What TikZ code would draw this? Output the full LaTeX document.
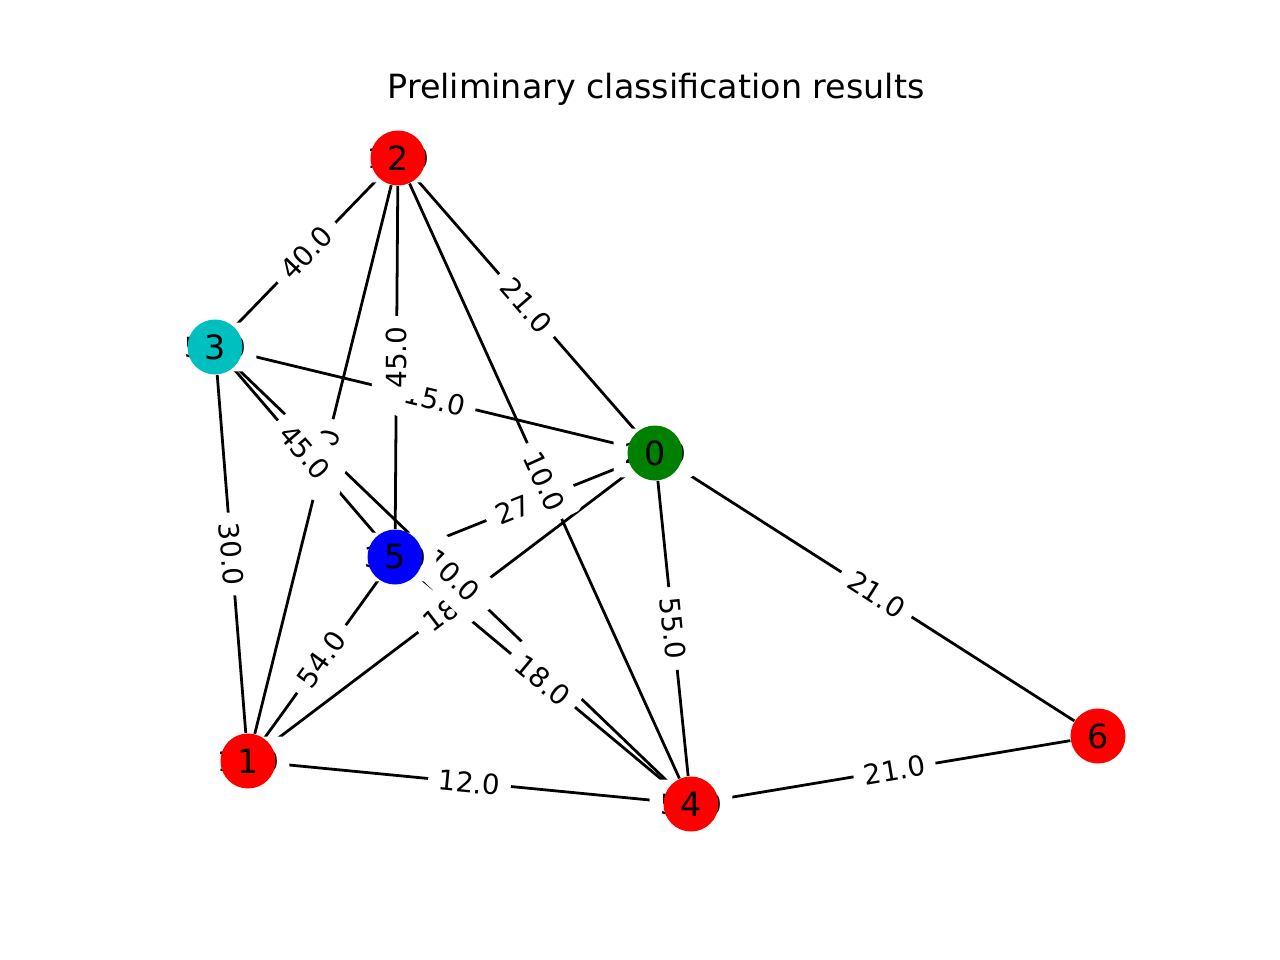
\documentclass[tikz,border=0pt]{standalone}
\usepackage{fontspec}
\setmainfont{DejaVu Sans}
\pgfdeclarelayer{bg}
\pgfsetlayers{bg,main}
\definecolor{nred}{rgb}{1,0,0}
\definecolor{ngreen}{rgb}{0,0.5,0}
\definecolor{ncyan}{rgb}{0,0.75,0.75}
\definecolor{nblue}{rgb}{0,0,1}
\tikzset{
    vertex/.style={circle, minimum size=19.8pt, inner sep=0pt, font=\fontsize{12}{12}\selectfont},
    edge/.style={line width=1pt, black},
    weight/.style={fill=white, rounded corners=3pt, inner xsep=3.8pt, inner ysep=5pt, font=\fontsize{10}{10}\selectfont},
    onedge/.style={weight, sloped, midway}
}
\begin{document}
\begin{tikzpicture}[x=0.36pt, y=-0.36pt]
    \useasboundingbox (0,0) rectangle (1280,960);
    \node [anchor=base, font=\fontsize{12}{14}\selectfont] (title) at (656,98) {Preliminary classification results};
    \node [vertex, fill=ngreen] (n0) at (655,453) {0};
    \node [vertex, fill=nred] (n1) at (248,761) {1};
    \node [vertex, fill=nred] (n2) at (398,158) {2};
    \node [vertex, fill=ncyan] (n3) at (215,347) {3};
    \node [vertex, fill=nred] (n4) at (691,804) {4};
    \node [vertex, fill=nblue] (n5) at (395,557) {5};
    \node [vertex, fill=nred] (n6) at (1098,736) {6};
    \begin{pgfonlayer}{bg}
        \draw [edge] (n2) -- (n3);
        \draw [edge] (n2) -- (n0);
        \draw [edge] (n2) -- (n5);
        \draw [edge] (n2) -- (n1);
        \draw [edge] (n2) -- (n4);
        \draw [edge] (n3) -- (n0);
        \draw [edge] (n3) -- (n5);
        \draw [edge] (n3) -- (n4);
        \draw [edge] (n3) -- (n1);
        \draw [edge] (n0) -- (n5);
        \draw [edge] (n0) -- (n1);
        \draw [edge] (n0) -- (n4);
        \draw [edge] (n0) -- (n6);
        \draw [edge] (n5) -- (n1);
        \draw [edge] (n5) -- (n4);
        \draw [edge] (n1) -- (n4);
        \draw [edge] (n4) -- (n6);
        \path (n2) -- (n3) node [onedge] (w23) {40.0};
        \path (n2) -- (n0) node [onedge] (w20) {21.0};
        \path (n2) -- (n1) node [onedge] (w21) {30.0};
        \path (n3) -- (n0) node [onedge] (w30) {15.0};
        \path (n0) -- (n5) node [onedge] (w05) {27.0};
        \path (n0) -- (n1) node [onedge] (w01) {18.0};
        \path (n2) -- (n5) node [onedge] (w25) {45.0};
        \path (n2) -- (n4) node [onedge] (w24) {10.0};
        \path (n3) -- (n5) node [onedge] (w35) {45.0};
        \path (n3) -- (n4) node [onedge] (w34) {10.0};
        \path (n3) -- (n1) node [onedge] (w31) {30.0};
        \path (n0) -- (n4) node [onedge] (w04) {55.0};
        \path (n0) -- (n6) node [onedge] (w06) {21.0};
        \path (n5) -- (n1) node [onedge] (w51) {54.0};
        \path (n5) -- (n4) node [onedge] (w54) {18.0};
        \path (n1) -- (n4) node [onedge] (w14) {12.0};
        \path (n4) -- (n6) node [onedge] (w46) {21.0};
        \node [weight] (w00) at (n0) {20.0};
        \node [weight] (w11) at (n1) {10.0};
        \node [weight] (w22) at (n2) {10.0};
        \node [weight] (w33) at (n3) {50.0};
        \node [weight] (w44) at (n4) {50.0};
        \node [weight] (w55) at (n5) {30.0};
    \end{pgfonlayer}
\end{tikzpicture}
\end{document}
